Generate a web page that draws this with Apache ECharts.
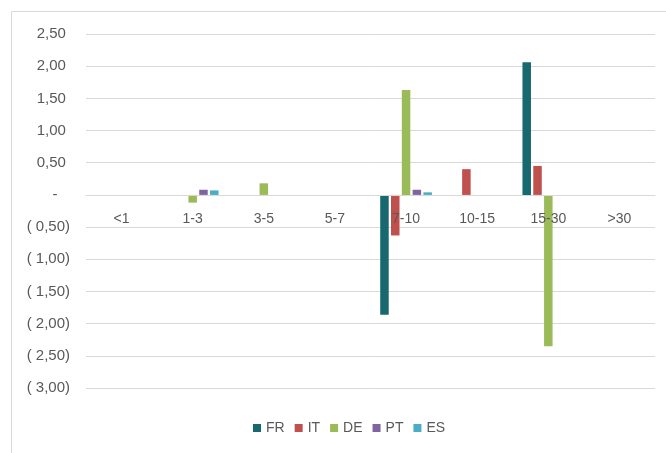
<!DOCTYPE html>
<html>
<head>
<meta charset="utf-8">
<style>html,body{margin:0;padding:0;background:#fff}#c{width:666px;height:453px}</style>
<script src="https://cdn.jsdelivr.net/npm/echarts@6/dist/echarts.min.js"></script>
</head>
<body>
<div id="c"></div>
<script>
var categories = ['<1', '1-3', '3-5', '5-7', '7-10', '10-15', '15-30', '>30'];
var seriesNames = ['FR', 'IT', 'DE', 'PT', 'ES'];
var FR = [0, 0, 0, 0, -1.86, 0, 2.06, 0];
var IT = [0, 0, 0, 0, -0.63, 0.40, 0.45, 0];
var DE = [0, -0.12, 0.18, 0, 1.63, 0, -2.35, 0];
var PT = [0, 0.08, 0, 0, 0.08, 0, 0, 0];
var ES = [0, 0.07, 0, 0, 0.04, 0, 0, 0];
var colors = ['#17686F', '#C0504D', '#9BBB59', '#8064A2', '#4BACC6'];
var values = [FR, IT, DE, PT, ES];

var yMin = -3, yMax = 2.5;
var gridTop = 34, gridBottom = 65, chartH = 453;

function fmt(v) {
  if (Math.abs(v) < 1e-9) return '-   ';
  var s = Math.abs(v).toFixed(2).replace('.', ',');
  return v < 0 ? '( ' + s + ')' : s + ' ';
}

var plotH = chartH - gridTop - gridBottom;
var zeroOffset = -plotH * (0 - yMin) / (yMax - yMin);

var chart = echarts.init(document.getElementById('c'), null, {renderer: 'canvas'});
chart.setOption({
  animation: false,
  backgroundColor: '#fff',
  color: colors,
  graphic: [{
    type: 'rect',
    shape: {x: 11.5, y: 11.5, width: 700, height: 500},
    style: {fill: 'none', stroke: '#D9D9D9', lineWidth: 1},
    silent: true
  }],
  grid: {left: 86, right: 11, top: gridTop, bottom: gridBottom},
  legend: {
    data: seriesNames,
    left: 253,
    top: 421,
    padding: 0,
    itemWidth: 8,
    itemHeight: 8,
    itemGap: 10,
    icon: 'rect',
    textStyle: {color: '#595959', fontSize: 14, fontFamily: 'Liberation Sans Narrow, Liberation Sans, sans-serif'}
  },
  xAxis: {
    type: 'category',
    data: categories,
    position: 'bottom',
    offset: zeroOffset,
    z: 10,
    axisLine: {show: true, onZero: false, lineStyle: {color: '#D9D9D9', width: 1}},
    axisTick: {show: false},
    axisLabel: {color: '#595959', fontSize: 14, margin: 17, fontFamily: 'Liberation Sans, sans-serif', interval: 0},
    splitLine: {show: false}
  },
  yAxis: {
    type: 'value',
    min: yMin,
    max: yMax,
    interval: 0.5,
    axisLine: {show: false},
    axisTick: {show: false},
    axisLabel: {color: '#595959', fontSize: 15, margin: 16, fontFamily: 'Liberation Sans, sans-serif', formatter: fmt},
    splitLine: {lineStyle: {color: '#D9D9D9', width: 1}}
  },
  series: seriesNames.map(function (n, i) {
    return {
      name: n,
      type: 'bar',
      data: values[i],
      barWidth: 8.5,
      barGap: '27%',
      itemStyle: {color: colors[i]}
    };
  })
});
</script>
</body>
</html>
